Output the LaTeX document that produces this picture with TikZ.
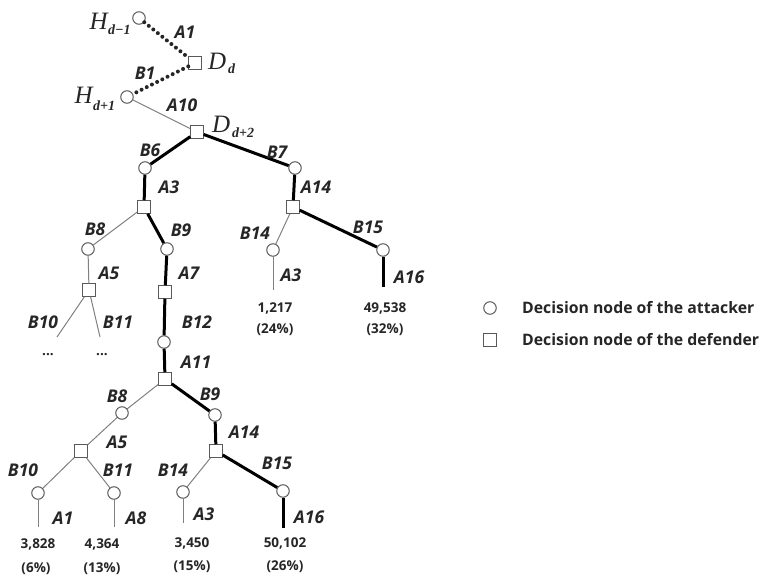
\documentclass[tikz,border=0pt]{standalone}
\usepackage{fontspec}
\setmainfont{Open Sans}
\newfontfamily\hfont{Liberation Serif}
\begin{document}
\begin{tikzpicture}[x=1pt,y=-1pt,
  att/.style={circle, draw=black!65, fill=white, minimum size=12.5pt, inner sep=0pt, line width=1pt},
  dfd/.style={rectangle, draw=black!65, fill=white, minimum size=12.5pt, inner sep=0pt, line width=1pt},
  hot/.style={line width=3pt, black},
  cold/.style={line width=1pt, black!50},
  dotline/.style={line width=4pt, black!85, dash pattern=on 0pt off 5.8pt, line cap=round},
  lab/.style={font=\fontsize{17.5}{17.5}\selectfont\bfseries\itshape, text=black!85, inner sep=0pt},
  val/.style={font=\fontsize{13.5}{14}\selectfont\bfseries, text=black!85, inner sep=0pt},
  hlab/.style={inner sep=0pt, text=black!85},
  bigit/.style={hlab, font=\hfont\fontsize{25}{25}\selectfont\itshape},
  subit/.style={hlab, font=\hfont\fontsize{14}{14}\selectfont\itshape\bfseries},
  legtext/.style={font=\fontsize{15.8}{16}\selectfont\bfseries, text=black!85, anchor=west, inner sep=0pt}
]
\useasboundingbox (0,0) rectangle (766,577);

% ---- top part ----
\node[att] (hm1) at (139,18) {};
\node[dfd] (dd)  at (195,63) {};
\node[att] (hp1) at (127,97) {};
\node[dfd] (dd2) at (197,132) {};

\node[bigit, anchor=base east] at (108,30) {H};
\node[subit, anchor=base west] at (108,35) {d−1};
\node[bigit, anchor=base west] at (208,70) {D};
\node[subit, anchor=base west] at (228,74) {d};
\node[bigit, anchor=base east] at (93,104) {H};
\node[subit, anchor=base west] at (93,111) {d+1};
\node[bigit, anchor=base west] at (212,133) {D};
\node[subit, anchor=base west] at (232,138) {d+2};

\draw[dotline] (hm1) -- (dd);
\draw[dotline] (dd) -- (hp1);
\draw[cold] (hp1) -- (dd2);
\node[lab] at (185,32) {A1};
\node[lab] at (145,73) {B1};
\node[lab] at (182,105) {A10};

% ---- second level ----
\node[att] (b6)  at (145,168) {};
\node[att] (b7)  at (295,168) {};
\node[dfd] (a3)  at (144,207) {};
\node[dfd] (a14) at (293,207) {};
\draw[hot] (dd2) -- (b6);
\draw[hot] (dd2) -- (b7);
\draw[hot] (b6) -- (a3);
\draw[hot] (b7) -- (a14);
\node[lab] at (150,150) {B6};
\node[lab] at (277,152) {B7};
\node[lab] at (169,187) {A3};
\node[lab] at (316,187) {A14};

% right branch of A14
\node[att] (b14) at (273,250) {};
\node[att] (b15) at (383,250) {};
\coordinate (e14) at (273,290);
\coordinate (e15) at (383,287);
\draw[cold] (a14) -- (b14);
\draw[hot] (a14) -- (b15);
\draw[cold] (b14) -- (e14);
\draw[hot] (b15) -- (e15);
\node[lab] at (255,233) {B14};
\node[lab] at (368,227) {B15};
\node[lab] at (291,275) {A3};
\node[lab] at (409,277) {A16};
\node[val] at (275,308) {1,217};
\node[val] at (275,330) {(24\%)};
\node[val] at (385,308) {49,538};
\node[val] at (385,330) {(32\%)};

% left branch of A3
\node[att] (b8)  at (88,249) {};
\node[dfd] (a5)  at (89,290) {};
\coordinate (e10) at (57,337);
\coordinate (e11) at (100,337);
\draw[cold] (a3) -- (b8);
\draw[cold] (b8) -- (a5);
\draw[cold] (a5) -- (e10);
\draw[cold] (a5) -- (e11);
\node[lab] at (95,229) {B8};
\node[lab] at (109,273) {A5};
\node[lab] at (43,322) {B10};
\node[lab] at (118,322) {B11};
\node[val] at (48,355) {...};
\node[val] at (102,355) {...};

% main path
\node[att] (b9)  at (167,249) {};
\node[dfd] (a7)  at (165,292) {};
\node[att] (b12) at (164,342) {};
\node[dfd] (a11) at (165,379) {};
\draw[hot] (a3) -- (b9);
\draw[hot] (b9) -- (a7);
\draw[hot] (a7) -- (b12);
\draw[hot] (b12) -- (a11);
\node[lab] at (181,230) {B9};
\node[lab] at (189,273) {A7};
\node[lab] at (197,322) {B12};
\node[lab] at (196,362) {A11};

% ---- lower subtree ----
\node[att] (lb8)  at (122,413) {};
\node[att] (lb9)  at (215,415) {};
\node[dfd] (la5)  at (81,451) {};
\node[dfd] (la14) at (216,451) {};
\draw[cold] (a11) -- (lb8);
\draw[hot] (a11) -- (lb9);
\draw[cold] (lb8) -- (la5);
\draw[hot] (lb9) -- (la14);
\node[lab] at (117,396) {B8};
\node[lab] at (210,394) {B9};
\node[lab] at (117,442) {A5};
\node[lab] at (244,432) {A14};

\node[att] (lb10) at (38,493) {};
\node[att] (lb11) at (114,493) {};
\node[att] (lb14) at (183,492) {};
\node[att] (lb15) at (283,491) {};
\coordinate (le10) at (38,527);
\coordinate (le11) at (114,527);
\coordinate (le14) at (183,523);
\coordinate (le15) at (283,528);
\draw[cold] (la5) -- (lb10);
\draw[cold] (la5) -- (lb11);
\draw[cold] (la14) -- (lb14);
\draw[hot] (la14) -- (lb15);
\draw[cold] (lb10) -- (le10);
\draw[cold] (lb11) -- (le11);
\draw[cold] (lb14) -- (le14);
\draw[hot] (lb15) -- (le15);
\node[lab] at (23,470) {B10};
\node[lab] at (118,470) {B11};
\node[lab] at (173,470) {B14};
\node[lab] at (277,463) {B15};
\node[lab] at (63,518) {A1};
\node[lab] at (136,518) {A8};
\node[lab] at (204,514) {A3};
\node[lab] at (309,517) {A16};

\node[val] at (38,544) {3,828};
\node[val] at (36,569) {(6\%)};
\node[val] at (102,544) {4,364};
\node[val] at (102,569) {(13\%)};
\node[val] at (192,543) {3,450};
\node[val] at (192,567) {(15\%)};
\node[val] at (285,543) {50,102};
\node[val] at (285,567) {(26\%)};

% ---- legend ----
\node[att] (legatt) at (490,308) {};
\node[dfd] (legdef) at (490,340) {};
\node[legtext] at (522,308) {Decision node of the attacker};
\node[legtext] at (522,340) {Decision node of the defender};
\end{tikzpicture}
\end{document}
